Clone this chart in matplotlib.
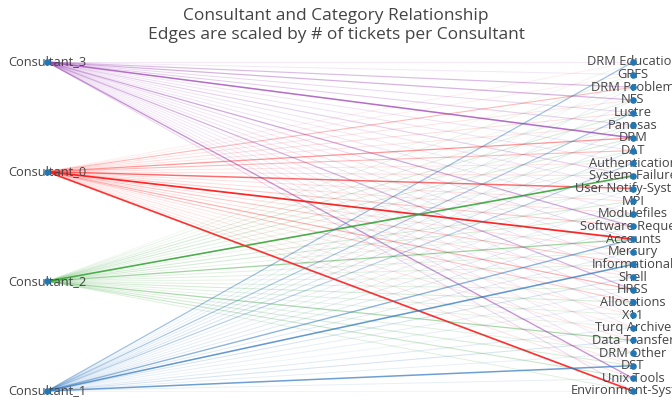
import numpy as np
import matplotlib
matplotlib.use("Agg")
from matplotlib import pyplot as plt

plt.rcParams['font.family'] = ['Open Sans', 'DejaVu Sans']

consultants = ["Consultant_3", "Consultant_0", "Consultant_2", "Consultant_1"]
edge_colors = ["#9b3fb5", "#ff1a1a", "#2ca02c", "#2f77c0"]

categories = ["DRM Education", "GRFS", "DRM Problem", "NFS", "Lustre", "Panasas",
              "DRM", "DAT", "Authentication", "System Failure", "User Notify-System",
              "MPI", "Modulefiles", "Software Request", "Accounts", "Mercury",
              "Informational", "Shell", "HRSS", "Allocations", "X11", "Turq Archive",
              "Data Transfer", "DRM Other", "DST", "Unix Tools", "Environment-System"]

# edge strength (share of tickets) per consultant, in category order
w_c3 = [0.12, 0.12, 0.35, 0.40, 0.20, 0.25, 0.75, 0.15, 0.15, 0.25, 0.15, 0.12, 0.15, 0.45,
        0.20, 0.12, 0.15, 0.15, 0.40, 0.15, 0.12, 0.12, 0.12, 0.12, 0.15, 0.55, 0.20]
w_c0 = [0.08, 0.08, 0.30, 0.12, 0.15, 0.12, 0.45, 0.30, 0.12, 0.15, 0.65, 0.15, 0.15, 0.25,
        0.95, 0.15, 0.25, 0.15, 0.35, 0.25, 0.12, 0.08, 0.12, 0.08, 0.12, 0.12, 0.90]
w_c2 = [0.08, 0.12, 0.08, 0.15, 0.20, 0.15, 0.20, 0.15, 0.12, 0.85, 0.12, 0.20, 0.20, 0.12,
        0.45, 0.15, 0.15, 0.12, 0.15, 0.20, 0.15, 0.12, 0.40, 0.15, 0.20, 0.25, 0.15]
w_c1 = [0.45, 0.08, 0.12, 0.12, 0.40, 0.15, 0.15, 0.20, 0.35, 0.12, 0.12, 0.12, 0.15, 0.15,
        0.55, 0.15, 0.75, 0.20, 0.12, 0.12, 0.08, 0.15, 0.20, 0.12, 0.70, 0.12, 0.08]
weights = [w_c3, w_c0, w_c2, w_c1]

fig = plt.figure(figsize=(6.72, 4.03), dpi=100)
ax = fig.add_axes([0, 0, 1, 1])
ax.set_xlim(-0.0802, 1.0666)
ax.set_ylim(-0.0365, 1.1884)
ax.axis('off')

y_cons = np.linspace(1, 0, len(consultants))
y_cat = np.linspace(1, 0, len(categories))

# Edges
for i in range(len(consultants)):
    for j in range(len(categories)):
        w = weights[i][j]
        ax.plot([0, 1], [y_cons[i], y_cat[j]], color=edge_colors[i],
                alpha=w, lw=0.6 + 0.7 * w, zorder=1)

# Node labels
for i, name in enumerate(consultants):
    ax.text(0, y_cons[i], name, ha='center', va='center', fontsize=9.3,
            color='#444444', zorder=3)
for j, name in enumerate(categories):
    ax.text(1, y_cat[j], name, ha='center', va='center', fontsize=9.3,
            color='#444444', zorder=3)

# Nodes
ax.scatter(np.zeros(len(consultants)), y_cons, s=14, color='#1f77b4', zorder=4)
ax.scatter(np.ones(len(categories)), y_cat, s=14, color='#1f77b4', zorder=4)

fig.text(0.5, 1 - 16 / 403, 'Consultant and Category Relationship', ha='center',
         va='center', fontsize=12.5, color='#444444')
fig.text(0.5, 1 - 35 / 403, 'Edges are scaled by # of tickets per Consultant', ha='center',
         va='center', fontsize=12.5, color='#444444')

fig.savefig('out.png', dpi=100)
